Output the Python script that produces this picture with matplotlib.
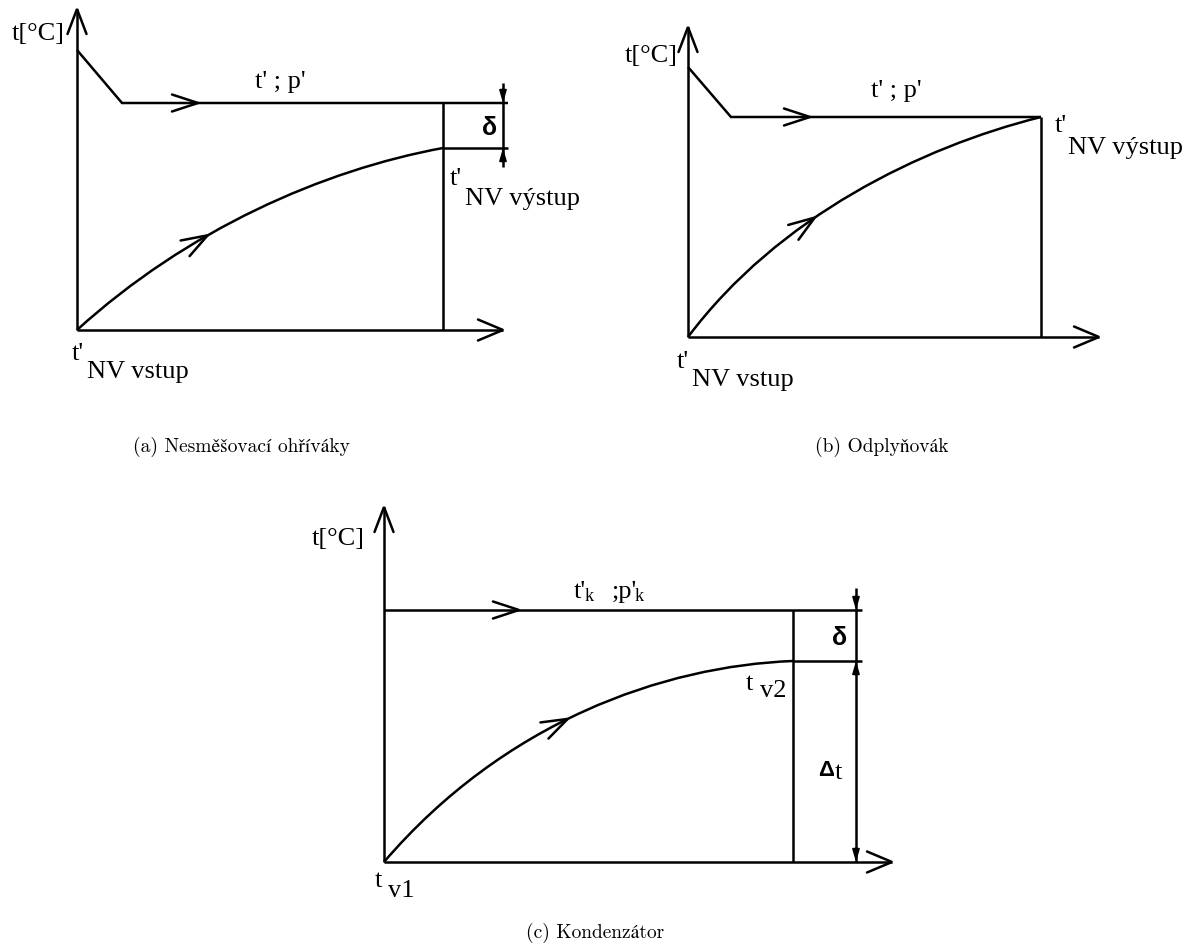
import matplotlib
matplotlib.use("Agg")
import matplotlib.pyplot as plt
import numpy as np
from matplotlib.path import Path
from matplotlib.patches import PathPatch
from matplotlib.bezier import BezierSegment

# ---- geometry of the three t-A diagrams (drawing units = pixels) ----
# (a) non-mixing feed-water heater
a_origin = (77, 330)
a_y_tip = 9
a_x_tip = 503
a_steam_x = [77, 122, 508]
a_steam_y = [50, 103, 103]
a_steam_arrow_x = 198
a_outlet = (443, 148)
a_water_ctrl = [(77, 330), (187, 230), (323, 170), (443, 148)]
a_water_arrow_t = 0.37
a_dim_x = 503
a_dim_span = (83, 167)

# (b) deaerator
b_origin = (688, 337)
b_y_tip = 27
b_x_tip = 1099
b_steam_x = [688, 731, 1041]
b_steam_y = [67, 117, 117]
b_steam_arrow_x = 810
b_outlet = (1041, 117)
b_water_ctrl = [(688, 337), (778, 217), (921, 147), (1041, 117)]
b_water_arrow_t = 0.395

# (c) condenser
c_origin = (384, 862)
c_y_tip = 507
c_x_tip = 892
c_steam_x = [384, 862]
c_steam_y = [610, 610]
c_steam_arrow_x = 519
c_outlet = (793, 661)
c_water_ctrl = [(384, 862), (504, 722), (663, 666), (793, 661)]
c_water_arrow_t = 0.46
c_dim_x = 856
c_dim_top = 588

captions = ["(a) Nesměšovací ohříváky", "(b) Odplyňovák", "(c) Kondenzátor"]
caption_pos = [(241, 447), (882, 447), (595, 933)]

LW = 1.8
SERIF = "Liberation Serif"
SANS = "Liberation Sans"
CAPTION_FONT = ["cmr10", "STIXGeneral", "DejaVu Serif"]
FS = 19

fig = plt.figure(figsize=(11.9, 9.49), dpi=100)
ax = fig.add_axes([0, 0, 1, 1])
ax.set_xlim(0, 1190)
ax.set_ylim(949, 0)
ax.set_aspect("equal")
ax.axis("off")


def line(xs, ys):
    ax.plot(xs, ys, color="k", lw=LW, solid_capstyle="butt", solid_joinstyle="miter")


def open_head(tip, prev, length=25, half=10):
    tip = np.asarray(tip, float)
    d = tip - np.asarray(prev, float)
    d /= np.hypot(*d)
    n = np.array([-d[1], d[0]])
    base = tip - d * length
    pts = np.array([base + n * half, tip, base - n * half])
    ax.plot(pts[:, 0], pts[:, 1], color="k", lw=LW,
            solid_capstyle="round", solid_joinstyle="miter")


def axes_arrows(origin, y_tip, x_tip):
    ox, oy = origin
    line([ox, ox], [oy, y_tip])
    open_head((ox, y_tip), (ox, oy), 25, 9.5)
    line([ox, x_tip], [oy, oy])
    open_head((x_tip, oy), (ox, oy), 25, 10.5)


def water_curve(ctrl, t_arrow):
    path = Path(ctrl, [Path.MOVETO, Path.CURVE4, Path.CURVE4, Path.CURVE4])
    ax.add_patch(PathPatch(path, fill=False, lw=LW, ec="k"))
    seg = BezierSegment(np.asarray(ctrl, float))
    tip = seg.point_at_t(t_arrow)
    prev = seg.point_at_t(t_arrow - 0.01)
    open_head(tip, prev, 26, 9)


def dim_head(x, y_tip, direction):
    # small filled arrow head of a dimension line; direction +1 = pointing down
    ax.annotate("", xy=(x, y_tip), xytext=(x, y_tip - direction * 14),
                arrowprops=dict(arrowstyle="-|>,head_length=0.75,head_width=0.22",
                                color="k", lw=1.2, shrinkA=0, shrinkB=0,
                                mutation_scale=10))


def txt(x, y, s, size=FS, family=SERIF, ha="left", **kw):
    ax.text(x, y, s, fontsize=size, family=family, va="baseline", ha=ha, **kw)


# ---------------- (a) ----------------
axes_arrows(a_origin, a_y_tip, a_x_tip)
line(a_steam_x, a_steam_y)
open_head((a_steam_arrow_x, a_steam_y[-1]), (a_steam_x[1], a_steam_y[-1]), 26, 8.5)
line([a_outlet[0], a_outlet[0]], [a_steam_y[-1], a_origin[1]])
line([a_outlet[0], a_steam_x[-1]], [a_outlet[1], a_outlet[1]])
water_curve(a_water_ctrl, a_water_arrow_t)
line([a_dim_x, a_dim_x], list(a_dim_span))
dim_head(a_dim_x, a_steam_y[-1], +1)
dim_head(a_dim_x, a_outlet[1], -1)

txt(12, 40, "t[°C]")
txt(280, 88, "t' ; p'", ha="center")
ax.text(490, 128, "δ", fontsize=18, family=SANS, weight="bold", ha="center", va="center")
txt(450, 185, "t'")
txt(465, 205, "NV výstup")
txt(72, 360, "t'")
txt(87, 378, "NV vstup")

# ---------------- (b) ----------------
axes_arrows(b_origin, b_y_tip, b_x_tip)
line(b_steam_x, b_steam_y)
open_head((b_steam_arrow_x, b_steam_y[-1]), (b_steam_x[1], b_steam_y[-1]), 26, 8.5)
line([b_outlet[0], b_outlet[0]], [b_steam_y[-1], b_origin[1]])
water_curve(b_water_ctrl, b_water_arrow_t)

txt(625, 62, "t[°C]")
txt(896, 97, "t' ; p'", ha="center")
txt(1055, 132, "t'")
txt(1068, 154, "NV výstup")
txt(677, 368, "t'")
txt(692, 386, "NV vstup")

# ---------------- (c) ----------------
axes_arrows(c_origin, c_y_tip, c_x_tip)
line(c_steam_x, c_steam_y)
open_head((c_steam_arrow_x, c_steam_y[-1]), (c_steam_x[0], c_steam_y[-1]), 26, 8.5)
line([c_outlet[0], c_outlet[0]], [c_steam_y[-1], c_origin[1]])
line([c_outlet[0], c_steam_x[-1]], [c_outlet[1], c_outlet[1]])
water_curve(c_water_ctrl, c_water_arrow_t)
line([c_dim_x, c_dim_x], [c_dim_top, c_origin[1]])
dim_head(c_dim_x, c_steam_y[-1], +1)
dim_head(c_dim_x, c_outlet[1], -1)
dim_head(c_dim_x, c_origin[1], +1)

txt(312, 545, "t[°C]")
txt(574, 598, "t'")
txt(585, 601, "k", size=13)
txt(612, 598, ";p'")
txt(635, 601, "k", size=13)
ax.text(840, 638, "δ", fontsize=18, family=SANS, weight="bold", ha="center", va="center")
ax.text(826, 771, "Δ", fontsize=16, family=SANS, weight="bold", ha="center", va="center")
txt(835, 779, "t")
txt(746, 690, "t")
txt(760, 697, "v2")
txt(375, 887, "t")
txt(388, 897, "v1")

# ---------------- captions ----------------
for (cx, cy), cap in zip(caption_pos, captions):
    ax.text(cx, cy, cap, fontsize=14, family=CAPTION_FONT, ha="center", va="center")

fig.savefig("out.png", dpi=100, facecolor="white")
